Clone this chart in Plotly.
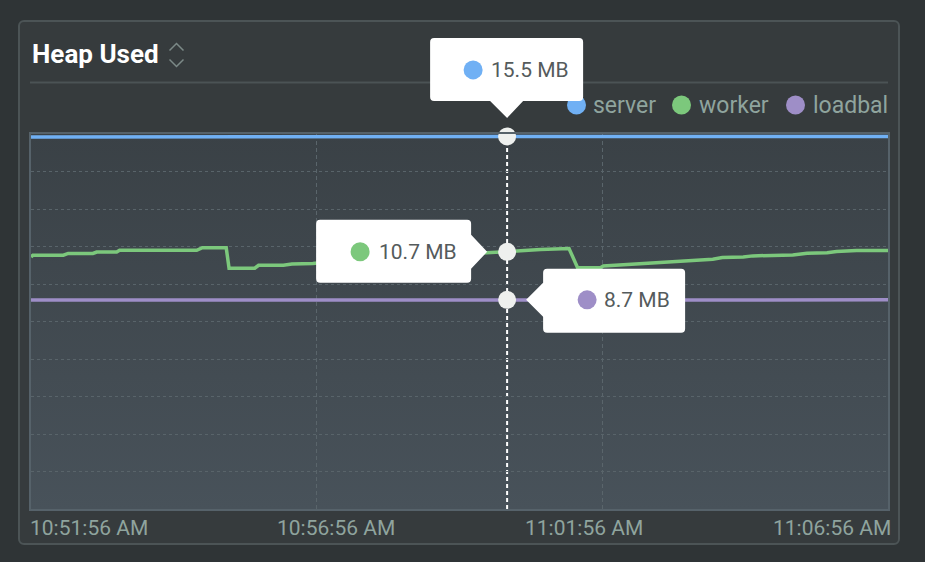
import base64
from datetime import datetime
import plotly.graph_objects as go

# ---------------- data ----------------
BASE_DATE = "2024-01-01"
title_text = "Heap Used"
unit = "MB"

series_names = ["server", "worker", "loadbal"]
series_colors = ["#70b0f4", "#7cc87c", "#9e8ec7"]

server_times = ["10:51:56", "11:02:36", "11:02:46", "11:06:56"]
server_values = [15.48, 15.48, 15.50, 15.50]

worker_times = [
    "10:51:56", "10:51:58", "10:52:30", "10:52:35", "10:53:01", "10:53:05",
    "10:53:26", "10:53:29", "10:54:50", "10:54:56", "10:55:21", "10:55:24",
    "10:55:51", "10:55:55", "10:56:21", "10:56:30", "10:56:52", "10:57:26",
    "10:58:16", "10:59:06", "10:59:55", "11:00:16", "11:00:26", "11:00:51",
    "11:01:19", "11:01:21", "11:01:30", "11:01:54", "11:01:57", "11:02:22",
    "11:02:53", "11:03:21", "11:03:35", "11:03:52", "11:04:02", "11:04:24",
    "11:04:34", "11:05:16", "11:05:31", "11:05:52", "11:06:02", "11:06:23",
    "11:06:56",
]
worker_values = [
    10.48, 10.56, 10.56, 10.63, 10.63, 10.69,
    10.69, 10.76, 10.76, 10.87, 10.87, 10.02,
    10.02, 10.14, 10.14, 10.19, 10.21, 10.35,
    10.45, 10.55, 10.66, 10.70, 10.73, 10.80,
    10.84, 10.84, 10.04, 10.04, 10.11, 10.18,
    10.25, 10.32, 10.35, 10.39, 10.46, 10.48,
    10.53, 10.57, 10.64, 10.66, 10.71, 10.75,
    10.75,
]

loadbal_times = ["10:51:56", "11:03:30", "11:06:56"]
loadbal_values = [8.69, 8.70, 8.70]

hover_time = "11:00:16"
hover_values = [15.5, 10.7, 8.7]

x_start, x_end = "10:51:56", "11:06:56"
x_grid_times = ["10:56:56", "11:01:56"]
x_tick_labels = ["10:51:56 AM", "10:56:56 AM", "11:01:56 AM", "11:06:56 AM"]
y_max = 15.6
n_y_div = 10

# ---------------- layout geometry ----------------
W, H = 925, 562
ML, MR, MT, MB = 31, 37, 134, 53
PW, PH = W - ML - MR, H - MT - MB


def px(x):
    return (x - ML) / PW


def py(y):
    return (H - MB - y) / PH


def ts(t):
    return f"{BASE_DATE} {t}"


def secs(t):
    return datetime.strptime(t, "%H:%M:%S").timestamp()


TEXT_GREY = "#8fa49e"
TIP_TEXT = "#555b5c"
FONT = "Roboto"

# background (outer card + gradient plot area) as one svg image
svg = f'''<svg xmlns="http://www.w3.org/2000/svg" width="{W}" height="{H}" viewBox="0 0 {W} {H}" preserveAspectRatio="none">
<defs><linearGradient id="g" x1="0" y1="0" x2="0" y2="1">
<stop offset="0" stop-color="#3a4146"/><stop offset="1" stop-color="#48525a"/></linearGradient></defs>
<rect x="19" y="21" width="880" height="523" rx="5" ry="5" fill="#363b3d" stroke="#4c5456" stroke-width="2"/>
<rect x="{ML}" y="{MT}" width="{PW}" height="{PH}" fill="url(#g)"/>
</svg>'''
svg_uri = "data:image/svg+xml;base64," + base64.b64encode(svg.encode()).decode()

fig = go.Figure()

all_times = [server_times, worker_times, loadbal_times]
all_values = [server_values, worker_values, loadbal_values]
for name, color, tt, vv in zip(series_names, series_colors, all_times, all_values):
    fig.add_trace(go.Scatter(
        x=[ts(t) for t in tt], y=vv, mode="lines", name=name,
        line=dict(color=color, width=3.5, shape="linear"),
        showlegend=False, hoverinfo="skip",
    ))

# hover markers
fig.add_trace(go.Scatter(
    x=[ts(hover_time)] * len(hover_values), y=hover_values, mode="markers",
    marker=dict(size=18, color="#eef0ee", line=dict(width=0)),
    cliponaxis=False, showlegend=False, hoverinfo="skip",
))

shapes = []
annotations = []

# hover dashed line
shapes.append(dict(type="line", xref="x", yref="paper", x0=ts(hover_time), x1=ts(hover_time),
                   y0=0, y1=1, layer="between",
                   line=dict(color="#ffffff", width=2, dash="4px,3px")))

# separator under title
shapes.append(dict(type="line", xref="paper", yref="paper", x0=px(30), x1=px(888),
                   y0=py(82.5), y1=py(82.5), line=dict(color="#4b5355", width=2)))

# chevron icon
def chev(pts):
    return "M " + " L ".join(f"{px(a):.5f},{py(b):.5f}" for a, b in pts)

for pts in ([(169.5, 50.5), (176.5, 43.5), (183.5, 50.5)],
            [(169.5, 59.5), (176.5, 66.5), (183.5, 59.5)]):
    shapes.append(dict(type="path", xref="paper", yref="paper", path=chev(pts),
                       line=dict(color="#7b8987", width=1.5)))

# title
annotations.append(dict(text=title_text, xref="paper", yref="paper", x=px(30), y=py(54),
                        xanchor="left", yanchor="middle", showarrow=False,
                        font=dict(family=FONT, size=26, color="#ffffff", weight=700)))

# custom legend
legend_circle_cx = [576.5, 681.5, 795.5]
legend_text_x = [591, 697, 811]
for name, color, cx, tx in zip(series_names, series_colors, legend_circle_cx, legend_text_x):
    shapes.append(dict(type="circle", xref="paper", yref="paper",
                       x0=px(cx - 9.5), x1=px(cx + 9.5), y0=py(105 + 9.5), y1=py(105 - 9.5),
                       fillcolor=color, line=dict(width=0)))
    annotations.append(dict(text=name, xref="paper", yref="paper", x=px(tx), y=py(105),
                            xanchor="left", yanchor="middle", showarrow=False,
                            font=dict(family=FONT, size=23, color=TEXT_GREY)))

# x tick labels, spread evenly across the width
label_w = 117
span_l, span_r = 30, 890
step = (span_r - span_l - label_w) / (len(x_tick_labels) - 1)
for i, lab in enumerate(x_tick_labels):
    cx = span_l + label_w / 2 + i * step
    annotations.append(dict(text=lab, xref="paper", yref="paper", x=px(cx), y=py(528),
                            xanchor="center", yanchor="middle", showarrow=False,
                            font=dict(family=FONT, size=21, color=TEXT_GREY)))

# tooltips (pixel offsets relative to the hovered point)
hx = (secs(hover_time) - secs(x_start)) / (secs(x_end) - secs(x_start))
R = 4


def box_path(x0, x1, yt, yb, side):
    p = [f"M {x0 + R},{yt}", f"L {x1 - R},{yt}", f"Q {x1},{yt} {x1},{yt - R}"]
    if side == "right":
        p += [f"L {x1},{17}", f"L {x1 + 16},0", f"L {x1},{-17}"]
    p += [f"L {x1},{yb + R}", f"Q {x1},{yb} {x1 - R},{yb}"]
    if side == "bottom":
        p += [f"L 16,{yb}", f"L 0,{yb - 17}", f"L -17,{yb}"]
    p += [f"L {x0 + R},{yb}", f"Q {x0},{yb} {x0},{yb + R}"]
    if side == "left":
        p += [f"L {x0},{-17}", f"L {x0 - 17},0", f"L {x0},{17}"]
    p += [f"L {x0},{yt - R}", f"Q {x0},{yt} {x0 + R},{yt}", "Z"]
    return " ".join(p)


tips = [
    dict(x0=-77, x1=76, yt=98.5, yb=35.5, side="bottom", cdx=-34, cdy=66.5, tdx=-18),
    dict(x0=-191, x1=-36, yt=32, yb=-31, side="right", cdx=-147, cdy=0, tdx=-130),
    dict(x0=36, x1=178, yt=31, yb=-33, side="left", cdx=80, cdy=0, tdx=95),
]
for tip, val, color in zip(tips, hover_values, series_colors):
    hy = val / y_max
    shapes.append(dict(type="path", xref="paper", yref="paper",
                       xsizemode="pixel", ysizemode="pixel", xanchor=hx, yanchor=hy,
                       path=box_path(tip["x0"], tip["x1"], tip["yt"], tip["yb"], tip["side"]),
                       fillcolor="#ffffff", line=dict(width=0), layer="above"))
    shapes.append(dict(type="circle", xref="paper", yref="paper",
                       xsizemode="pixel", ysizemode="pixel", xanchor=hx, yanchor=hy,
                       x0=tip["cdx"] - 9.5, x1=tip["cdx"] + 9.5,
                       y0=tip["cdy"] - 9.5, y1=tip["cdy"] + 9.5,
                       fillcolor=color, line=dict(width=0), layer="above"))
    annotations.append(dict(text=f"{val:.1f} {unit}", xref="paper", yref="paper", x=hx, y=hy,
                            xshift=tip["tdx"], yshift=tip["cdy"],
                            xanchor="left", yanchor="middle", showarrow=False,
                            font=dict(family=FONT, size=21, color=TIP_TEXT)))

fig.update_layout(
    width=W, height=H,
    margin=dict(l=ML, r=MR, t=MT, b=MB, pad=0),
    paper_bgcolor="#2f3436",
    plot_bgcolor="rgba(0,0,0,0)",
    showlegend=False,
    hovermode=False,
    images=[dict(source=svg_uri, xref="paper", yref="paper",
                 x=-ML / PW, y=1 + MT / PH, sizex=W / PW, sizey=H / PH,
                 xanchor="left", yanchor="top", sizing="stretch", layer="below")],
    xaxis=dict(type="date", range=[ts(x_start), ts(x_end)],
               tickvals=[ts(t) for t in x_grid_times], showticklabels=False, ticks="",
               showgrid=True, gridcolor="#5a656b", gridwidth=1, griddash="4px,3px",
               showline=True, mirror=True, linecolor="#56626a", linewidth=2, zeroline=False,
               fixedrange=True),
    yaxis=dict(range=[0, y_max],
               tickvals=[y_max * k / n_y_div for k in range(1, n_y_div)],
               showticklabels=False, ticks="",
               showgrid=True, gridcolor="#59646a", gridwidth=1, griddash="3px,3px",
               showline=True, mirror=True, linecolor="#56626a", linewidth=2, zeroline=False,
               fixedrange=True),
    shapes=shapes,
    annotations=annotations,
)

fig.write_html("out.html", config=dict(displayModeBar=False))
